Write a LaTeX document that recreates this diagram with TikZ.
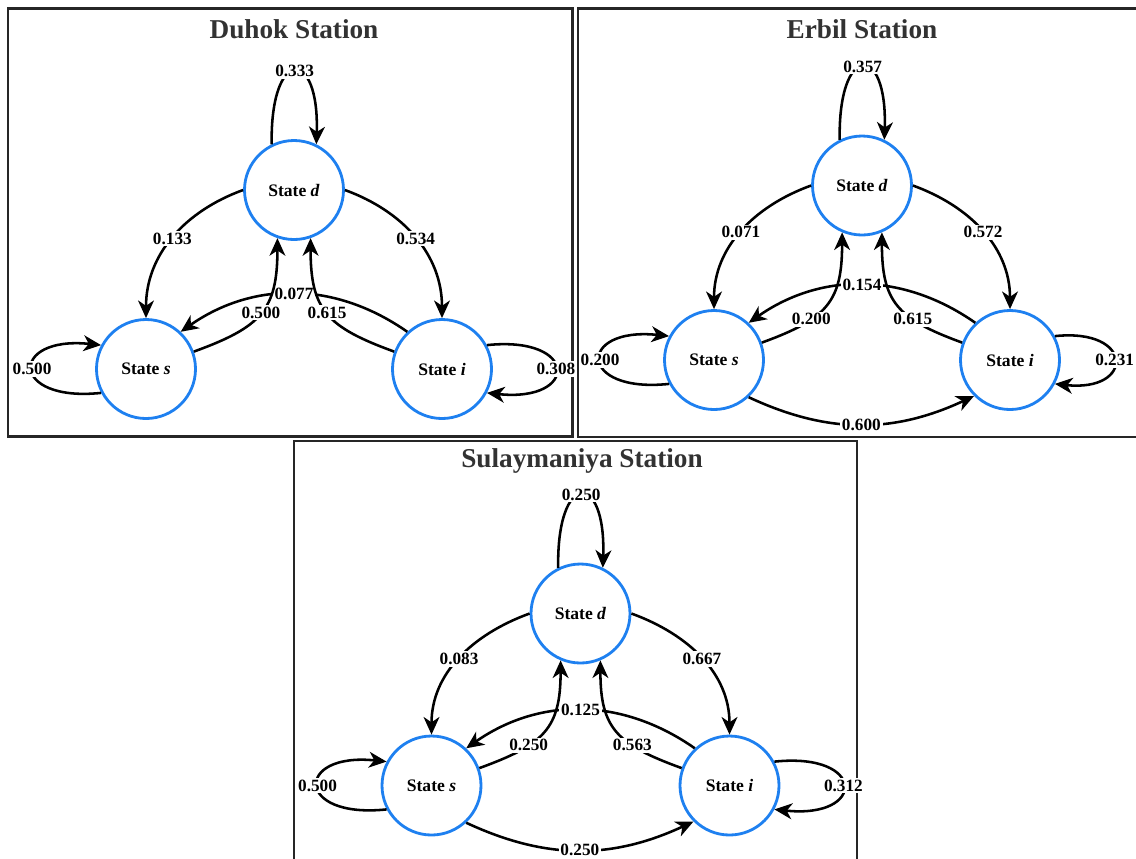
\documentclass[tikz,border=0pt]{standalone}
\usepackage{fontspec}
\setmainfont{Liberation Serif}
\usetikzlibrary{arrows.meta,positioning}

\definecolor{stateblue}{RGB}{30,128,240}
\definecolor{titlegray}{RGB}{50,50,50}

\tikzset{
  state/.style={draw=stateblue, circle, line width=1.6pt, minimum size=1.98cm, inner sep=0pt,
    font=\fontsize{10}{12}\selectfont\bfseries},
  trans/.style={-{Stealth[length=10pt,width=9pt,inset=3pt]}, line width=1.45pt},
  prob/.style={fill=white, inner sep=1pt, font=\fontsize{9.8}{11}\selectfont\bfseries},
  panel/.style={draw=black!85, line width=1.2pt},
  paneltitle/.style={text=titlegray, font=\fontsize{15.5}{18}\selectfont\bfseries},
}

\begin{document}
\begin{tikzpicture}
\useasboundingbox (0,0) rectangle (22.72,-17.16);
\clip (0,0) rectangle (22.72,-17.16);

% Duhok
\draw[panel] (0.16,-0.17) rectangle (11.45,-8.73);
\node[paneltitle] (t1) at (5.88,-0.58) {Duhok Station};
\begin{scope}[shift={(5.88,-3.80)}]
  \node[state] (d1) at (0,0) {State \textit{d}};
  \node[state] (s1) at (-2.96,-3.58) {State \textit{s}};
  \node[state] (i1) at (2.96,-3.58) {State \textit{i}};
\end{scope}
\draw[trans] (d1.116) .. controls +(91:1.95) and +(88:1.95) .. (d1.64) node[prob,pos=0.5] {0.333};
\draw[trans] (s1.208) .. controls +(186:1.85) and +(174:1.85) .. (s1.152) node[prob,pos=0.5] {0.500};
\draw[trans] (i1.28) .. controls +(6:1.85) and +(-6:1.85) .. (i1.-28) node[prob,pos=0.5] {0.308};
\draw[trans] (d1.180) to[out=200,in=90] node[prob] {0.133} (s1.90);
\draw[trans] (d1.0) to[out=-20,in=90] node[prob] {0.534} (i1.90);
\draw[trans] (i1.133) to[out=145,in=35] node[prob] {0.077} (s1.47);
\draw[trans] (s1.20) to[out=20,in=-90,looseness=1.3] node[prob,pos=0.5] {0.500} (d1.251);
\draw[trans] (i1.160) to[out=160,in=-90,looseness=1.3] node[prob,pos=0.5] {0.615} (d1.289);

% Erbil
\draw[panel] (11.56,-0.17) rectangle (23.2,-8.74);
\node[paneltitle] (t2) at (17.24,-0.58) {Erbil Station};
\begin{scope}[shift={(17.24,-3.71)}]
  \node[state] (d2) at (0,0) {State \textit{d}};
  \node[state] (s2) at (-2.96,-3.49) {State \textit{s}};
  \node[state] (i2) at (2.96,-3.49) {State \textit{i}};
\end{scope}
\draw[trans] (d2.116) .. controls +(91:1.95) and +(88:1.95) .. (d2.64) node[prob,pos=0.5] {0.357};
\draw[trans] (s2.208) .. controls +(186:1.85) and +(174:1.85) .. (s2.152) node[prob,pos=0.5] {0.200};
\draw[trans] (i2.28) .. controls +(6:1.6) and +(-6:1.6) .. (i2.-28) node[prob,pos=0.5] {0.231};
\draw[trans] (d2.180) to[out=200,in=90] node[prob] {0.071} (s2.90);
\draw[trans] (d2.0) to[out=-20,in=90] node[prob] {0.572} (i2.90);
\draw[trans] (i2.133) to[out=145,in=35] node[prob] {0.154} (s2.47);
\draw[trans] (s2.20) to[out=20,in=-90,looseness=1.3] node[prob,pos=0.33] {0.200} (d2.247);
\draw[trans] (i2.160) to[out=160,in=-90,looseness=1.3] node[prob,pos=0.33] {0.615} (d2.293);
\draw[trans] (s2.-47) to[out=-25,in=-155] node[prob] {0.600} (i2.-135);

% Sulaymaniya
\draw[panel] (5.88,-8.82) rectangle (17.14,-17.6);
\node[paneltitle] (t3) at (11.64,-9.21) {Sulaymaniya Station};
\begin{scope}[shift={(11.61,-12.27)}]
  \node[state] (d3) at (0,0) {State \textit{d}};
  \node[state] (s3) at (-2.98,-3.44) {State \textit{s}};
  \node[state] (i3) at (2.98,-3.44) {State \textit{i}};
\end{scope}
\draw[trans] (d3.116) .. controls +(91:1.95) and +(88:1.95) .. (d3.64) node[prob,pos=0.5] {0.250};
\draw[trans] (s3.208) .. controls +(186:1.85) and +(174:1.85) .. (s3.152) node[prob,pos=0.5] {0.500};
\draw[trans] (i3.28) .. controls +(6:1.85) and +(-6:1.85) .. (i3.-28) node[prob,pos=0.5] {0.312};
\draw[trans] (d3.180) to[out=200,in=90] node[prob] {0.083} (s3.90);
\draw[trans] (d3.0) to[out=-20,in=90] node[prob] {0.667} (i3.90);
\draw[trans] (i3.133) to[out=145,in=35] node[prob] {0.125} (s3.47);
\draw[trans] (s3.20) to[out=20,in=-90,looseness=1.3] node[prob,pos=0.33] {0.250} (d3.247);
\draw[trans] (i3.160) to[out=160,in=-90,looseness=1.3] node[prob,pos=0.33] {0.563} (d3.293);
\draw[trans] (s3.-47) to[out=-25,in=-155] node[prob] {0.250} (i3.-135);
\end{tikzpicture}
\end{document}
